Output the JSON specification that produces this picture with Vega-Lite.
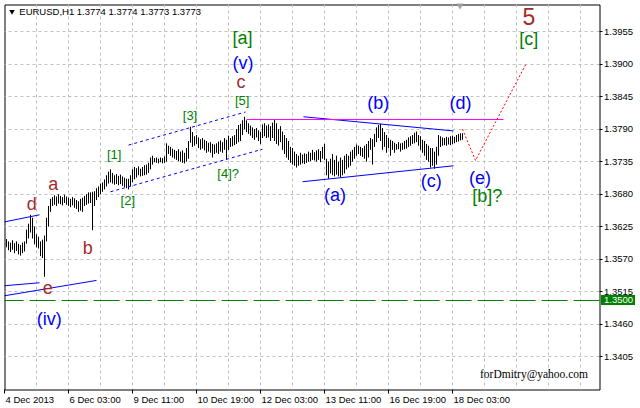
{
"$schema":"https://vega.github.io/schema/vega-lite/v6.json",
"width":595,"height":385,
"autosize":{"type":"none"},
"padding":{"left":4.5,"top":4.5,"right":40.5,"bottom":18.5},
"background":"white",
"config":{"view":{"stroke":"black","strokeWidth":1},"axis":{"labelFont":"Liberation Sans","labelFontSize":9.5,"labelColor":"black","tickColor":"black","translate":0,"domain":false,"labelOverlap":false,"labelBound":false,"labelFlush":false,"zindex":0}},
"datasets":{
"bars":[
{"v":1,"h":1.3604,"l":1.359},{"v":2,"h":1.36,"l":1.3585},{"v":3,"h":1.3598,"l":1.3582},{"v":4,"h":1.3602,"l":1.3586},{"v":5,"h":1.3597,"l":1.358},{"v":6,"h":1.36,"l":1.3584},{"v":7,"h":1.3596,"l":1.3578},{"v":8,"h":1.3594,"l":1.3576},{"v":9,"h":1.3598,"l":1.358},{"v":10,"h":1.36,"l":1.3583},
{"v":11,"h":1.362,"l":1.3596},{"v":12,"h":1.363,"l":1.3605},{"v":13,"h":1.3645,"l":1.3615},{"v":14,"h":1.364,"l":1.3605},{"v":15,"h":1.3625,"l":1.3595},{"v":16,"h":1.3612,"l":1.359},{"v":17,"h":1.3608,"l":1.3588},{"v":18,"h":1.36,"l":1.3575},{"v":19,"h":1.3603,"l":1.3572},{"v":20,"h":1.361,"l":1.354},
{"v":21,"h":1.364,"l":1.36},{"v":22,"h":1.366,"l":1.3625},{"v":23,"h":1.3672,"l":1.365},{"v":24,"h":1.3675,"l":1.366},{"v":25,"h":1.3678,"l":1.3662},{"v":26,"h":1.3676,"l":1.366},{"v":27,"h":1.368,"l":1.3664},{"v":28,"h":1.3677,"l":1.3663},{"v":29,"h":1.3675,"l":1.3661},{"v":30,"h":1.3679,"l":1.3665},
{"v":31,"h":1.3676,"l":1.3662},{"v":32,"h":1.3674,"l":1.366},{"v":33,"h":1.3672,"l":1.3658},{"v":34,"h":1.3675,"l":1.3661},{"v":35,"h":1.3673,"l":1.3657},{"v":36,"h":1.367,"l":1.3655},{"v":37,"h":1.3668,"l":1.365},{"v":38,"h":1.3672,"l":1.3652},{"v":39,"h":1.3674,"l":1.365},{"v":40,"h":1.3677,"l":1.366},
{"v":41,"h":1.368,"l":1.3662},{"v":42,"h":1.3683,"l":1.3664},{"v":43,"h":1.3683,"l":1.3665},{"v":44,"h":1.3684,"l":1.3619},{"v":45,"h":1.3685,"l":1.366},{"v":46,"h":1.369,"l":1.367},{"v":47,"h":1.3693,"l":1.3675},{"v":48,"h":1.3698,"l":1.368},{"v":49,"h":1.37,"l":1.3684},{"v":50,"h":1.3705,"l":1.3688},
{"v":51,"h":1.3712,"l":1.3693},{"v":52,"h":1.3718,"l":1.3698},{"v":53,"h":1.3722,"l":1.37},{"v":54,"h":1.3716,"l":1.3698},{"v":55,"h":1.3712,"l":1.3696},{"v":56,"h":1.3714,"l":1.3697},{"v":57,"h":1.3711,"l":1.3695},{"v":58,"h":1.3713,"l":1.3697},{"v":59,"h":1.371,"l":1.3694},{"v":60,"h":1.3708,"l":1.3692},
{"v":61,"h":1.3706,"l":1.369},{"v":62,"h":1.3706,"l":1.3688},{"v":63,"h":1.3712,"l":1.3693},{"v":64,"h":1.3722,"l":1.37},{"v":65,"h":1.3726,"l":1.3705},{"v":66,"h":1.3724,"l":1.3708},{"v":67,"h":1.3727,"l":1.3712},{"v":68,"h":1.3723,"l":1.371},{"v":69,"h":1.3726,"l":1.3711},{"v":70,"h":1.3729,"l":1.3712},
{"v":71,"h":1.373,"l":1.3713},{"v":72,"h":1.3733,"l":1.3716},{"v":73,"h":1.3742,"l":1.3722},{"v":74,"h":1.3745,"l":1.373},{"v":75,"h":1.3741,"l":1.3734},{"v":76,"h":1.3742,"l":1.3733},{"v":77,"h":1.374,"l":1.3732},{"v":78,"h":1.3742,"l":1.3734},{"v":79,"h":1.3741,"l":1.3732},{"v":80,"h":1.3744,"l":1.3733},
{"v":81,"h":1.3766,"l":1.3735},{"v":82,"h":1.3762,"l":1.3748},{"v":83,"h":1.376,"l":1.3745},{"v":84,"h":1.3757,"l":1.3742},{"v":85,"h":1.3755,"l":1.374},{"v":86,"h":1.3753,"l":1.3738},{"v":87,"h":1.3756,"l":1.3736},{"v":88,"h":1.3752,"l":1.3735},{"v":89,"h":1.3754,"l":1.3733},{"v":90,"h":1.375,"l":1.3732},
{"v":91,"h":1.3758,"l":1.3735},{"v":92,"h":1.377,"l":1.374},{"v":93,"h":1.3794,"l":1.3767},{"v":94,"h":1.3785,"l":1.376},{"v":95,"h":1.3778,"l":1.3762},{"v":96,"h":1.378,"l":1.3765},{"v":97,"h":1.3776,"l":1.3758},{"v":98,"h":1.3773,"l":1.3755},{"v":99,"h":1.3775,"l":1.3757},{"v":100,"h":1.3772,"l":1.3754},
{"v":101,"h":1.377,"l":1.375},{"v":102,"h":1.3767,"l":1.3752},{"v":103,"h":1.3768,"l":1.375},{"v":104,"h":1.3765,"l":1.3742},{"v":105,"h":1.3764,"l":1.3748},{"v":106,"h":1.3766,"l":1.375},{"v":107,"h":1.3769,"l":1.3748},{"v":108,"h":1.3771,"l":1.3752},{"v":109,"h":1.3768,"l":1.375},{"v":110,"h":1.3775,"l":1.3755},
{"v":111,"h":1.3772,"l":1.3738},{"v":112,"h":1.3779,"l":1.3755},{"v":113,"h":1.3775,"l":1.376},{"v":114,"h":1.3778,"l":1.3761},{"v":115,"h":1.378,"l":1.3763},{"v":116,"h":1.379,"l":1.3765},{"v":117,"h":1.3797,"l":1.3768},{"v":118,"h":1.3799,"l":1.377},{"v":119,"h":1.3805,"l":1.378},{"v":120,"h":1.3811,"l":1.379},
{"v":121,"h":1.3805,"l":1.3785},{"v":122,"h":1.38,"l":1.3782},{"v":123,"h":1.3796,"l":1.3779},{"v":124,"h":1.3793,"l":1.3775},{"v":125,"h":1.379,"l":1.3772},{"v":126,"h":1.3792,"l":1.3776},{"v":127,"h":1.3788,"l":1.377},{"v":128,"h":1.3785,"l":1.3765},{"v":129,"h":1.3798,"l":1.3775},{"v":130,"h":1.38,"l":1.3778},
{"v":131,"h":1.3796,"l":1.3775},{"v":132,"h":1.3798,"l":1.3776},{"v":133,"h":1.3795,"l":1.377},{"v":134,"h":1.3801,"l":1.3775},{"v":135,"h":1.3806,"l":1.377},{"v":136,"h":1.38,"l":1.3765},{"v":137,"h":1.379,"l":1.3762},{"v":138,"h":1.3795,"l":1.3768},{"v":139,"h":1.3786,"l":1.3755},{"v":140,"h":1.378,"l":1.3748},
{"v":141,"h":1.3775,"l":1.3742},{"v":142,"h":1.377,"l":1.3738},{"v":143,"h":1.376,"l":1.3733},{"v":144,"h":1.3758,"l":1.373},{"v":145,"h":1.3752,"l":1.3728},{"v":146,"h":1.3748,"l":1.3725},{"v":147,"h":1.3745,"l":1.3728},{"v":148,"h":1.375,"l":1.373},{"v":149,"h":1.3747,"l":1.3732},{"v":150,"h":1.3749,"l":1.3731},
{"v":151,"h":1.3748,"l":1.3733},{"v":152,"h":1.3752,"l":1.3735},{"v":153,"h":1.375,"l":1.3736},{"v":154,"h":1.3755,"l":1.3738},{"v":155,"h":1.3751,"l":1.3737},{"v":156,"h":1.3754,"l":1.3735},{"v":157,"h":1.3756,"l":1.3738},{"v":158,"h":1.3753,"l":1.3734},{"v":159,"h":1.376,"l":1.374},{"v":160,"h":1.3765,"l":1.3738},
{"v":161,"h":1.374,"l":1.3712},{"v":162,"h":1.3735,"l":1.3706},{"v":163,"h":1.374,"l":1.3715},{"v":164,"h":1.3748,"l":1.3712},{"v":165,"h":1.3738,"l":1.371},{"v":166,"h":1.3745,"l":1.3713},{"v":167,"h":1.3735,"l":1.371},{"v":168,"h":1.3742,"l":1.3708},{"v":169,"h":1.3738,"l":1.3712},{"v":170,"h":1.3745,"l":1.3715},
{"v":171,"h":1.3748,"l":1.3722},{"v":172,"h":1.3745,"l":1.3725},{"v":173,"h":1.3752,"l":1.3728},{"v":174,"h":1.3755,"l":1.3735},{"v":175,"h":1.376,"l":1.374},{"v":176,"h":1.3764,"l":1.3745},{"v":177,"h":1.3762,"l":1.3748},{"v":178,"h":1.376,"l":1.3745},{"v":179,"h":1.3758,"l":1.3743},{"v":180,"h":1.3762,"l":1.374},
{"v":181,"h":1.3765,"l":1.3735},{"v":182,"h":1.377,"l":1.3742},{"v":183,"h":1.3775,"l":1.3755},{"v":184,"h":1.3773,"l":1.373},{"v":185,"h":1.3782,"l":1.376},{"v":186,"h":1.3793,"l":1.3768},{"v":187,"h":1.3797,"l":1.3775},{"v":188,"h":1.3799,"l":1.377},{"v":189,"h":1.3792,"l":1.3755},{"v":190,"h":1.3785,"l":1.376},
{"v":191,"h":1.378,"l":1.375},{"v":192,"h":1.3775,"l":1.3758},{"v":193,"h":1.3772,"l":1.3745},{"v":194,"h":1.377,"l":1.3755},{"v":195,"h":1.3767,"l":1.375},{"v":196,"h":1.3765,"l":1.3755},{"v":197,"h":1.3768,"l":1.3756},{"v":198,"h":1.3766,"l":1.3752},{"v":199,"h":1.3767,"l":1.3755},{"v":200,"h":1.377,"l":1.3756},
{"v":201,"h":1.3772,"l":1.3757},{"v":202,"h":1.3776,"l":1.376},{"v":203,"h":1.3778,"l":1.3762},{"v":204,"h":1.378,"l":1.3765},{"v":205,"h":1.3784,"l":1.3766},{"v":206,"h":1.3786,"l":1.3768},{"v":207,"h":1.378,"l":1.3762},{"v":208,"h":1.3778,"l":1.3755},{"v":209,"h":1.3772,"l":1.375},{"v":210,"h":1.377,"l":1.3745},
{"v":211,"h":1.3765,"l":1.3738},{"v":212,"h":1.3762,"l":1.3735},{"v":213,"h":1.3758,"l":1.3725},{"v":214,"h":1.3758,"l":1.3728},{"v":215,"h":1.3752,"l":1.3723},{"v":216,"h":1.376,"l":1.373},{"v":217,"h":1.378,"l":1.3745},{"v":218,"h":1.3778,"l":1.376},{"v":219,"h":1.3776,"l":1.3762},{"v":220,"h":1.3775,"l":1.3763},
{"v":221,"h":1.3777,"l":1.3762},{"v":222,"h":1.3776,"l":1.3764},{"v":223,"h":1.3778,"l":1.3763},{"v":224,"h":1.3779,"l":1.3765},{"v":225,"h":1.3777,"l":1.3766},{"v":226,"h":1.378,"l":1.3768},{"v":227,"h":1.3782,"l":1.3769},{"v":228,"h":1.3783,"l":1.3771},{"v":229,"h":1.3783,"l":1.3772}
],
"lines":[
{"g":"left upper","v":0,"p":1.3633},{"g":"left upper","v":17.5,"p":1.3645},
{"g":"left lower 1","v":0,"p":1.3525},{"g":"left lower 1","v":17.5,"p":1.353},
{"g":"left lower 2","v":0,"p":1.3508},{"g":"left lower 2","v":46,"p":1.3534},
{"g":"triangle upper","v":149.5,"p":1.3811},{"g":"triangle upper","v":224.5,"p":1.3787},
{"g":"triangle lower","v":149,"p":1.3701},{"g":"triangle lower","v":224.5,"p":1.3728},
{"g":"channel upper","v":62,"p":1.3763},{"g":"channel upper","v":120.5,"p":1.3819},
{"g":"channel lower","v":53,"p":1.3684},{"g":"channel lower","v":129,"p":1.3756},
{"g":"resistance","v":121,"p":1.38063},{"g":"resistance","v":249.5,"p":1.38063},
{"g":"forecast","v":229,"p":1.379},{"g":"forecast","v":235.5,"p":1.3737},{"g":"forecast","v":261,"p":1.3902}
],
"level":[{"p":1.35}],
"levelbox":[{"v":298.25,"v2":315.25,"p":1.35093,"p2":1.34924,"t":"1.3500"}],
"labels":[
{"k":"minute","t":"(v)","v":119.25,"p":1.39},
{"k":"minute","t":"(iv)","v":22.4,"p":1.34675},
{"k":"minute","t":"(a)","v":165.25,"p":1.36772},
{"k":"minute","t":"(b)","v":186.9,"p":1.38318},
{"k":"minute","t":"(c)","v":213.4,"p":1.37004},
{"k":"minute","t":"(d)","v":228,"p":1.38318},
{"k":"minute","t":"(e)","v":237.75,"p":1.37064},
{"k":"minuette","t":"c","v":118.25,"p":1.38687},
{"k":"minuette","t":"a","v":24.4,"p":1.36951},
{"k":"minuette","t":"d","v":13.65,"p":1.36617},
{"k":"minuette","t":"b","v":41.65,"p":1.35873},
{"k":"minuette","t":"e","v":21.65,"p":1.35187},
{"k":"minor","t":"[a]","v":119,"p":1.3942},
{"k":"minor","t":"[c]","v":262.15,"p":1.39415},
{"k":"minor","t":"[b]?","v":241.35,"p":1.3675},
{"k":"subminuette","t":"[5]","v":118.85,"p":1.38377},
{"k":"subminuette","t":"[3]","v":92.75,"p":1.38123},
{"k":"subminuette","t":"[1]","v":54.85,"p":1.37463},
{"k":"subminuette","t":"[2]","v":61.65,"p":1.36685},
{"k":"subminuette","t":"[4]?","v":111.85,"p":1.37137},
{"k":"intermediate","t":"5","v":262.15,"p":1.39782},
{"k":"note","t":"forDmitry@yahoo.com","v":264.75,"p":1.33741},
{"k":"title","t":"EURUSD,H1  1.3774 1.3774 1.3773 1.3773","v":7.4,"p":1.39885}
],
"markers":[{"name":"menu","v":3.75,"p":1.39877},{"name":"shift","v":227.75,"p":1.39975}]
},
"layer":[
{"data":{"name":"bars"},"mark":{"type":"rule","color":"black","strokeWidth":1},
 "encoding":{
  "x":{"field":"v","type":"quantitative","title":null,"scale":{"domain":[0,297.5],"nice":false,"zero":false},
   "axis":{"orient":"bottom","title":null,"values":[0,16,32,48,64,80,96,112,128,144,160,176,192,208,224,240,256,272,288],"tickCount":60,
    "grid":true,"gridColor":"#c0c0c0","gridDash":[3,3],"gridWidth":1,
    "gridOpacity":{"condition":{"test":"datum.value > 0","value":1},"value":0},
    "tickSize":4,"tickOpacity":{"condition":{"test":"datum.value % 32 === 0 && datum.value <= 224","value":1},"value":0},
    "labelExpr":"datum.value==0?'4 Dec 2013':datum.value==32?'6 Dec 03:00':datum.value==64?'9 Dec 11:00':datum.value==96?'10 Dec 19:00':datum.value==128?'12 Dec 03:00':datum.value==160?'13 Dec 11:00':datum.value==192?'16 Dec 19:00':datum.value==224?'18 Dec 03:00':''",
    "labelAlign":"left","labelBaseline":"top","labelPadding":1,"labelOffset":1,"labelOverlap":false,"labelFlush":false,"labelBound":false,"domain":false}},
  "y":{"field":"l","type":"quantitative","title":null,"scale":{"domain":[1.334937,1.400097],"nice":false,"zero":false},
   "axis":{"orient":"right","title":null,"values":[1.3405,1.346,1.3515,1.357,1.3625,1.368,1.3735,1.379,1.3845,1.39,1.3955],"tickCount":40,"format":".4f",
    "grid":true,"gridColor":"#c0c0c0","gridDash":[3,3],"gridWidth":1,"tickSize":3,"labelPadding":1.5,"labelOverlap":false,"labelBound":false,"labelFlush":false,"labelSeparation":0,"domain":false}},
  "y2":{"field":"h"}}},
{"data":{"name":"lines"},"transform":[{"filter":"indexof(['left upper','left lower 1','left lower 2','triangle upper','triangle lower'], datum.g) >= 0"}],
 "mark":{"type":"line","color":"#0000ff","strokeWidth":1},
 "encoding":{"x":{"field":"v","type":"quantitative","title":null,"scale":{"domain":[0,297.5],"nice":false,"zero":false}},
  "y":{"field":"p","type":"quantitative","title":null,"scale":{"domain":[1.334937,1.400097],"nice":false,"zero":false}},"detail":{"field":"g"}}},
{"data":{"name":"lines"},"transform":[{"filter":"indexof(['channel upper','channel lower'], datum.g) >= 0"}],
 "mark":{"type":"line","color":"#0000ff","strokeWidth":1,"strokeDash":[3,3]},
 "encoding":{"x":{"field":"v","type":"quantitative","title":null,"scale":{"domain":[0,297.5],"nice":false,"zero":false}},
  "y":{"field":"p","type":"quantitative","title":null,"scale":{"domain":[1.334937,1.400097],"nice":false,"zero":false}},"detail":{"field":"g"}}},
{"data":{"name":"lines"},"transform":[{"filter":"datum.g === 'resistance'"}],
 "mark":{"type":"line","color":"#ff00ff","strokeWidth":1},
 "encoding":{"x":{"field":"v","type":"quantitative","title":null,"scale":{"domain":[0,297.5],"nice":false,"zero":false}},
  "y":{"field":"p","type":"quantitative","title":null,"scale":{"domain":[1.334937,1.400097],"nice":false,"zero":false}}}},
{"data":{"name":"lines"},"transform":[{"filter":"datum.g === 'forecast'"}],
 "mark":{"type":"line","color":"#ff0000","strokeWidth":1,"strokeDash":[2,2]},
 "encoding":{"x":{"field":"v","type":"quantitative","title":null,"scale":{"domain":[0,297.5],"nice":false,"zero":false}},
  "y":{"field":"p","type":"quantitative","title":null,"scale":{"domain":[1.334937,1.400097],"nice":false,"zero":false}}}},
{"data":{"name":"level"},"mark":{"type":"rule","color":"#008000","strokeWidth":1,"strokeDash":[26,6]},
 "encoding":{"y":{"field":"p","type":"quantitative","title":null,"scale":{"domain":[1.334937,1.400097],"nice":false,"zero":false}}}},
{"data":{"name":"levelbox"},"mark":{"type":"rect","color":"#008000","clip":false},
 "encoding":{"x":{"field":"v","type":"quantitative","title":null,"scale":{"domain":[0,297.5],"nice":false,"zero":false}},"x2":{"field":"v2"},
  "y":{"field":"p","type":"quantitative","title":null,"scale":{"domain":[1.334937,1.400097],"nice":false,"zero":false}},"y2":{"field":"p2"}}},
{"data":{"name":"levelbox"},"mark":{"type":"text","color":"white","font":"Liberation Sans","fontSize":9.5,"align":"left","baseline":"middle","clip":false,"dx":3,"dy":5},
 "encoding":{"x":{"field":"v","type":"quantitative","title":null,"scale":{"domain":[0,297.5],"nice":false,"zero":false}},
  "y":{"field":"p","type":"quantitative","title":null,"scale":{"domain":[1.334937,1.400097],"nice":false,"zero":false}},"text":{"field":"t"}}},
{"data":{"name":"labels"},"transform":[{"filter":"datum.k === 'minute'"}],
 "mark":{"type":"text","color":"#0000ff","font":"Liberation Sans","fontSize":18,"align":"center","baseline":"middle"},
 "encoding":{"x":{"field":"v","type":"quantitative","title":null,"scale":{"domain":[0,297.5],"nice":false,"zero":false}},
  "y":{"field":"p","type":"quantitative","title":null,"scale":{"domain":[1.334937,1.400097],"nice":false,"zero":false}},"text":{"field":"t"}}},
{"data":{"name":"labels"},"transform":[{"filter":"datum.k === 'minuette'"}],
 "mark":{"type":"text","color":"#a52a2a","font":"Liberation Sans","fontSize":18,"align":"center","baseline":"middle"},
 "encoding":{"x":{"field":"v","type":"quantitative","title":null,"scale":{"domain":[0,297.5],"nice":false,"zero":false}},
  "y":{"field":"p","type":"quantitative","title":null,"scale":{"domain":[1.334937,1.400097],"nice":false,"zero":false}},"text":{"field":"t"}}},
{"data":{"name":"labels"},"transform":[{"filter":"datum.k === 'minor'"}],
 "mark":{"type":"text","color":"#008000","font":"Liberation Sans","fontSize":18,"align":"center","baseline":"middle"},
 "encoding":{"x":{"field":"v","type":"quantitative","title":null,"scale":{"domain":[0,297.5],"nice":false,"zero":false}},
  "y":{"field":"p","type":"quantitative","title":null,"scale":{"domain":[1.334937,1.400097],"nice":false,"zero":false}},"text":{"field":"t"}}},
{"data":{"name":"labels"},"transform":[{"filter":"datum.k === 'subminuette'"}],
 "mark":{"type":"text","color":"#008000","font":"Liberation Sans","fontSize":13,"align":"center","baseline":"middle"},
 "encoding":{"x":{"field":"v","type":"quantitative","title":null,"scale":{"domain":[0,297.5],"nice":false,"zero":false}},
  "y":{"field":"p","type":"quantitative","title":null,"scale":{"domain":[1.334937,1.400097],"nice":false,"zero":false}},"text":{"field":"t"}}},
{"data":{"name":"labels"},"transform":[{"filter":"datum.k === 'intermediate'"}],
 "mark":{"type":"text","color":"#a52a2a","font":"Liberation Sans","fontSize":23,"align":"center","baseline":"middle"},
 "encoding":{"x":{"field":"v","type":"quantitative","title":null,"scale":{"domain":[0,297.5],"nice":false,"zero":false}},
  "y":{"field":"p","type":"quantitative","title":null,"scale":{"domain":[1.334937,1.400097],"nice":false,"zero":false}},"text":{"field":"t"}}},
{"data":{"name":"labels"},"transform":[{"filter":"datum.k === 'note'"}],
 "mark":{"type":"text","color":"black","font":"Liberation Serif","fontSize":11.5,"align":"center","baseline":"middle"},
 "encoding":{"x":{"field":"v","type":"quantitative","title":null,"scale":{"domain":[0,297.5],"nice":false,"zero":false}},
  "y":{"field":"p","type":"quantitative","title":null,"scale":{"domain":[1.334937,1.400097],"nice":false,"zero":false}},"text":{"field":"t"}}},
{"data":{"name":"labels"},"transform":[{"filter":"datum.k === 'title'"}],
 "mark":{"type":"text","color":"black","font":"Liberation Sans","fontSize":9.5,"align":"left","baseline":"middle"},
 "encoding":{"x":{"field":"v","type":"quantitative","title":null,"scale":{"domain":[0,297.5],"nice":false,"zero":false}},
  "y":{"field":"p","type":"quantitative","title":null,"scale":{"domain":[1.334937,1.400097],"nice":false,"zero":false}},"text":{"field":"t"}}},
{"data":{"name":"markers"},"transform":[{"filter":"datum.name === 'menu'"}],
 "mark":{"type":"point","shape":"triangle-down","filled":true,"color":"black","size":30,"opacity":1},
 "encoding":{"x":{"field":"v","type":"quantitative","title":null,"scale":{"domain":[0,297.5],"nice":false,"zero":false}},
  "y":{"field":"p","type":"quantitative","title":null,"scale":{"domain":[1.334937,1.400097],"nice":false,"zero":false}}}},
{"data":{"name":"markers"},"transform":[{"filter":"datum.name === 'shift'"}],
 "mark":{"type":"point","shape":"triangle-down","filled":true,"color":"#a0a0a0","size":50,"opacity":1},
 "encoding":{"x":{"field":"v","type":"quantitative","title":null,"scale":{"domain":[0,297.5],"nice":false,"zero":false}},
  "y":{"field":"p","type":"quantitative","title":null,"scale":{"domain":[1.334937,1.400097],"nice":false,"zero":false}}}}
]
}
